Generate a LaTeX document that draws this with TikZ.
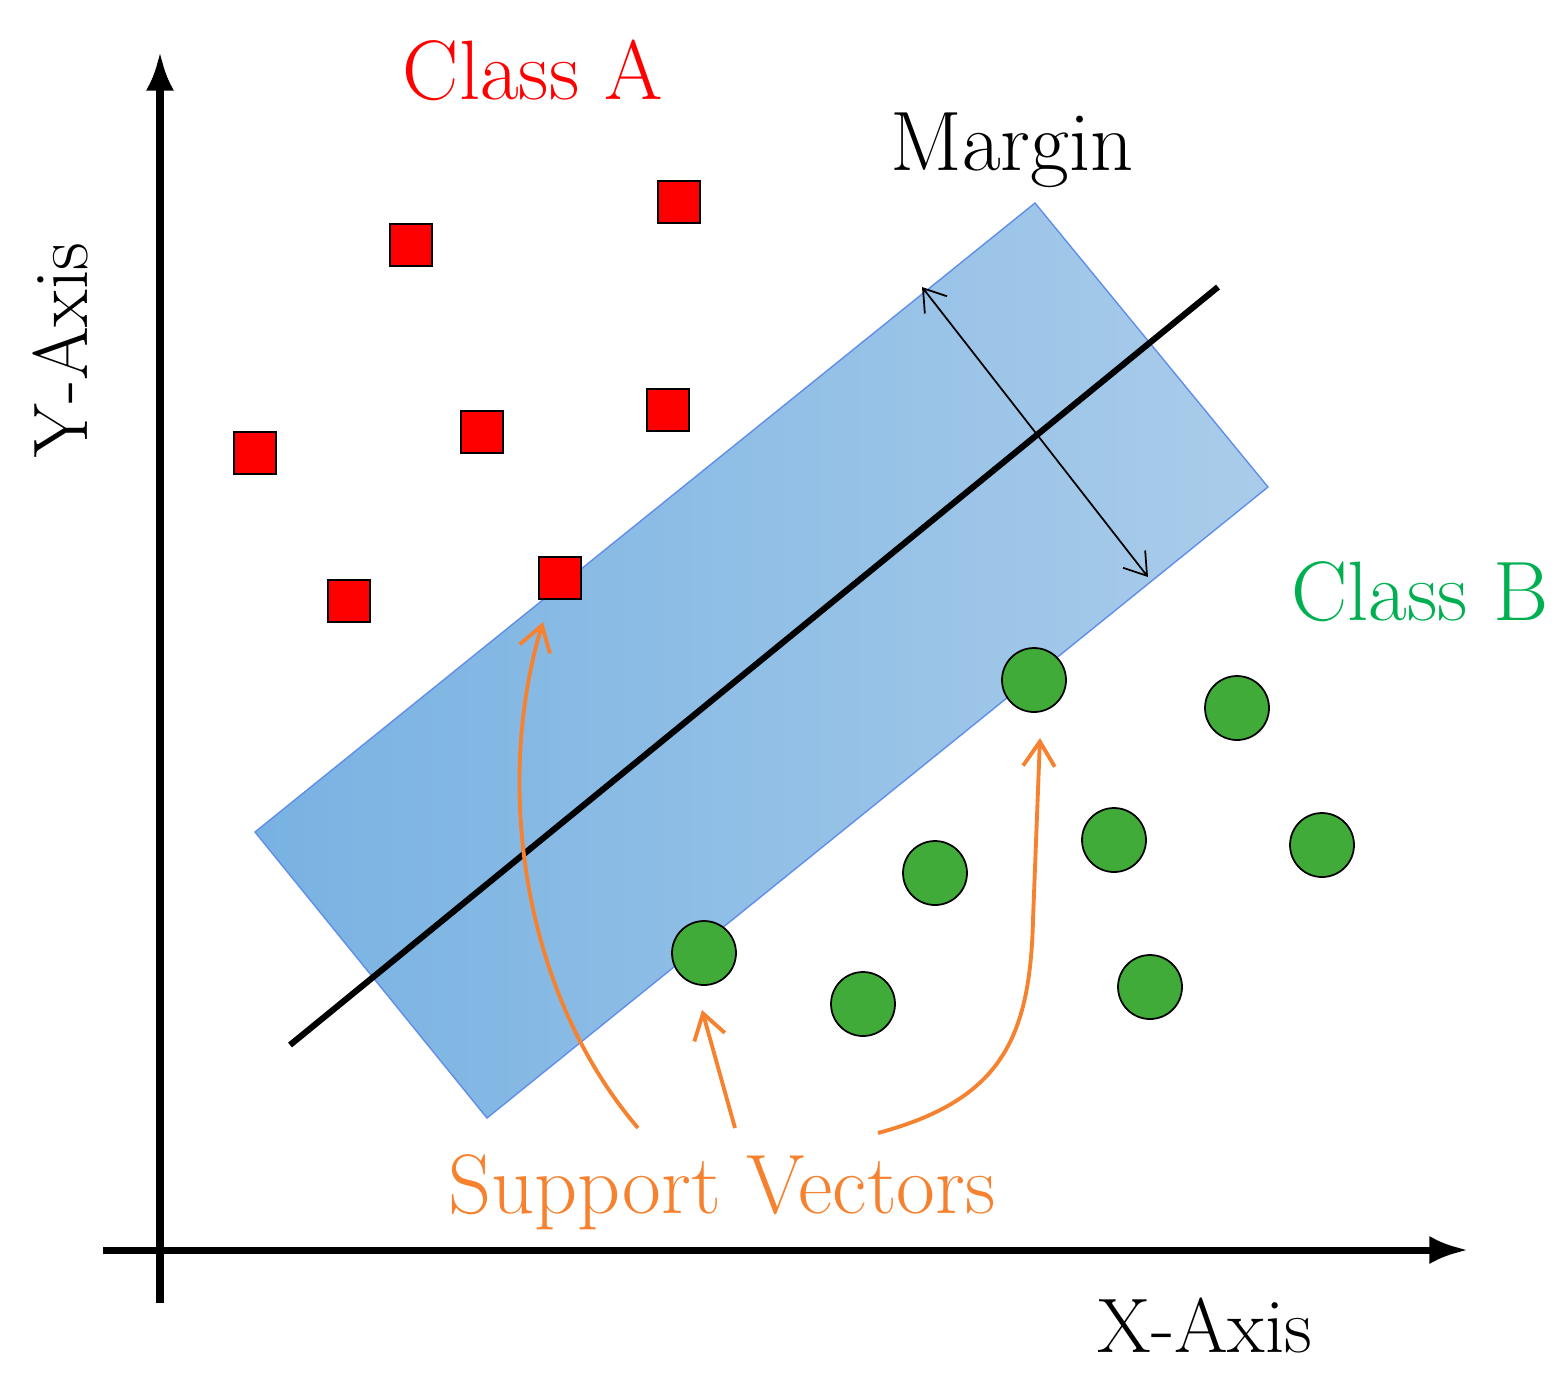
\documentclass[tikz,border=0pt]{standalone}
\usetikzlibrary{arrows.meta}
\definecolor{sqred}{RGB}{255,0,0}
\definecolor{cgreen}{RGB}{64,171,57}
\definecolor{tgreen}{RGB}{0,176,80}
\definecolor{orng}{RGB}{246,130,48}
\definecolor{bdark}{RGB}{120,178,226}
\definecolor{blight}{RGB}{170,204,234}
\begin{document}
\begin{tikzpicture}[x=0.02cm,y=-0.02cm,
  sq/.style={draw=black,fill=sqred,minimum size=0.84cm,inner sep=0pt,line width=1pt},
  ci/.style={circle,draw=black,fill=cgreen,minimum size=1.28cm,inner sep=0pt,line width=1pt},
  lab/.style={font=\fontsize{48}{56}\selectfont,inner sep=0pt},
  sv/.style={draw=orng,line width=2.2pt,-{Straight Barb[length=14pt,width=18pt,line width=2.2pt]}}]
\useasboundingbox (0,0) rectangle (1568,1377);
% margin band
\shade[left color=bdark,right color=blight,draw=bdark!80!blue,line width=0.8pt]
  (255,832) -- (1035,203) -- (1268,487) -- (487,1118) -- cycle;
% axes
\coordinate (yb) at (160,1303); \coordinate (yt) at (160,52);
\coordinate (xl) at (103,1250); \coordinate (xr) at (1468,1250);
\draw[line width=4pt,-{Latex[length=22pt,width=16pt]}] (yb) -- (yt);
\draw[line width=4pt,-{Latex[length=22pt,width=16pt]}] (xl) -- (xr);
% hyperplane
\coordinate (h1) at (290,1045); \coordinate (h2) at (1218,287);
\draw[line width=3.5pt] (h1) -- (h2);
% margin arrow
\coordinate (m1) at (922,287); \coordinate (m2) at (1148,577);
\draw[line width=1pt,{Straight Barb[length=12pt,width=16pt]}-{Straight Barb[length=12pt,width=16pt]}] (m1) -- (m2);
% squares
\foreach \n/\x/\y in {a1/411/245,a2/679/202,a3/255/453,a4/482/432,a5/668/410,a6/349/601,a7/560/578}
  \node[sq] (\n) at (\x,\y) {};
% circles
\foreach \n/\x/\y in {b1/1034/680,b2/1237/708,b3/1114/840,b4/1322/845,b5/935/873,b6/704/953,b7/863/1004,b8/1150/987}
  \node[ci] (\n) at (\x,\y) {};
% texts
\node[lab,text=sqred] (ca) at (533,70) {Class A};
\node[lab] (mg) at (1012,150) {Margin};
\node[lab,text=tgreen] (cb) at (1420,592) {Class B};
\node[lab,text=orng] (sv) at (722,1192) {Support Vectors};
\node[lab,rotate=90,font=\fontsize{44}{52}\selectfont] (ya) at (60,350) {Y-Axis};
\node[lab,font=\fontsize{44}{52}\selectfont] (xa) at (1205,1325) {X-Axis};
% support vector arrows
\coordinate (s1) at (638,1128); \coordinate (t1) at (543,622);
\coordinate (s2) at (735,1128); \coordinate (t2) at (702,1010);
\coordinate (s3) at (878,1133); \coordinate (t3) at (1040,738);
\draw[sv] (s1) .. controls (520,990) and (495,780) .. (t1);
\draw[sv] (s2) -- (t2);
\draw[sv] (s3) .. controls (1000,1100) and (1030,1040) .. (1033,920) -- (t3);
\end{tikzpicture}
\end{document}
